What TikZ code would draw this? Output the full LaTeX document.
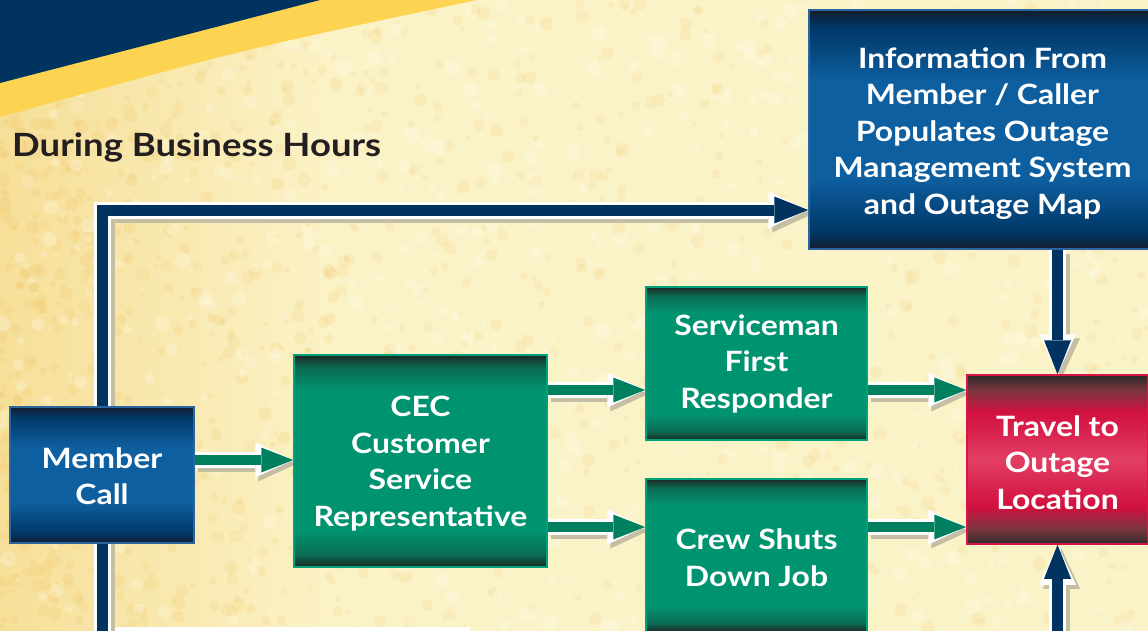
\documentclass[tikz,border=0pt]{standalone}
\usepackage{fontspec}
\setmainfont{Lato}[FakeStretch=1.14]
\usetikzlibrary{arrows.meta}
\definecolor{navy}{HTML}{00335F}
\definecolor{banneryellow}{HTML}{FDD451}
\definecolor{bgA}{HTML}{F6DF98}
\definecolor{bgB}{HTML}{FBF3C8}
\definecolor{speckA}{HTML}{F0BE5A}
\definecolor{speckB}{HTML}{FFFBE6}
\definecolor{titlecol}{HTML}{231F20}
\definecolor{gdark}{HTML}{1C2823}
\definecolor{gmid2}{HTML}{0A6C54}
\definecolor{gmid}{HTML}{00936F}
\definecolor{gborder}{HTML}{00A27C}
\definecolor{arrowgreen}{HTML}{00805F}
\definecolor{bdark}{HTML}{141C2C}
\definecolor{bmid2}{HTML}{003766}
\definecolor{bmid}{HTML}{0E5FA0}
\definecolor{bborder}{HTML}{2A65A0}
\definecolor{rdark}{HTML}{2C2A2A}
\definecolor{rmid2}{HTML}{7A363E}
\definecolor{rmid}{HTML}{D2103F}
\definecolor{rlight}{HTML}{E23E63}
\definecolor{rborder}{HTML}{DA1245}
\definecolor{shadowc}{HTML}{C4BEA4}
\pgfdeclareverticalshading{greenshade}{100bp}{color(0bp)=(gdark); color(25bp)=(gdark); color(28bp)=(gmid2); color(33.5bp)=(gmid); color(66.5bp)=(gmid); color(72bp)=(gmid2); color(75bp)=(gdark); color(100bp)=(gdark)}
\pgfdeclareverticalshading{blueshade}{100bp}{color(0bp)=(bdark); color(25bp)=(bdark); color(28.5bp)=(bmid2); color(40bp)=(bmid); color(60bp)=(bmid); color(71.5bp)=(bmid2); color(75bp)=(bdark); color(100bp)=(bdark)}
\pgfdeclareverticalshading{redshade}{100bp}{color(0bp)=(rdark); color(25bp)=(rdark); color(29.5bp)=(rmid2); color(36bp)=(rmid); color(50bp)=(rlight); color(64bp)=(rmid); color(70.5bp)=(rmid2); color(75bp)=(rdark); color(100bp)=(rdark)}
\pgfdeclarehorizontalshading{bgshade}{100bp}{color(0bp)=(bgA); color(25bp)=(bgA); color(40bp)=(bgB); color(100bp)=(bgB)}
\newcommand\boxfont{\fontsize{28}{36.5}\selectfont\bfseries}
\newcommand\titlefont{\fontsize{32}{34}\selectfont\bfseries}
\newcommand\firstline[1]{\rule{0pt}{#1pt}}
\pgfdeclarelayer{bglayer}
\pgfdeclarelayer{connlayer}
\pgfsetlayers{bglayer,connlayer,main}
\tikzset{
  box/.style={rectangle, inner sep=0pt, text=white, align=center, font=\boxfont, line width=1.5pt},
  greenbox/.style={box, shading=greenshade, draw=gborder},
  bluebox/.style={box, shading=blueshade, draw=bborder},
  redbox/.style={box, shading=redshade, draw=rborder},
  greenarrow/.style={draw=arrowgreen, line width=10pt,
    -{Triangle[length=32pt,width=25pt,line width=0pt]},
    preaction={draw=shadowc, line width=16pt, transform canvas={shift={(3pt,-4pt)}},
      -{Triangle[length=38pt,width=35pt,line width=0pt]}},
    preaction={draw=white, line width=16pt,
      -{Triangle[length=38pt,width=35pt,line width=0pt]}}},
  navyarrow/.style={draw=navy, line width=11pt,
    -{Triangle[length=34pt,width=27pt,line width=0pt]},
    preaction={draw=shadowc, line width=17pt, transform canvas={shift={(4pt,-4pt)}},
      -{Triangle[length=40pt,width=37pt,line width=0pt]}},
    preaction={draw=white, line width=17pt,
      -{Triangle[length=40pt,width=37pt,line width=0pt]}}},
  navyline/.style={navyarrow},
}
\begin{document}
\begin{tikzpicture}[x=1pt,y=-1pt]
\useasboundingbox (0,0) rectangle (1148,630);
\begin{pgfonlayer}{bglayer}
  \shade[shading=bgshade] (0,0) rectangle (1148,630);
  \pgfmathsetseed{42}
  \foreach \i in {1,...,700}{
    \pgfmathsetmacro{\sx}{rnd*1148}
    \pgfmathsetmacro{\sy}{rnd*630}
    \pgfmathsetmacro{\sr}{2+rnd*5}
    \fill[speckA, opacity=0.12] (\sx,\sy) circle[radius=\sr];
  }
  \foreach \i in {1,...,500}{
    \pgfmathsetmacro{\sx}{rnd*rnd*600}
    \pgfmathsetmacro{\sy}{rnd*630}
    \pgfmathsetmacro{\sr}{2+rnd*5}
    \fill[speckA, opacity=0.16] (\sx,\sy) circle[radius=\sr];
  }
  \foreach \i in {1,...,600}{
    \pgfmathsetmacro{\sx}{rnd*1148}
    \pgfmathsetmacro{\sy}{rnd*630}
    \pgfmathsetmacro{\sr}{2+rnd*6}
    \fill[speckB, opacity=0.3] (\sx,\sy) circle[radius=\sr];
  }
  % banner
  \fill[banneryellow] (0,0) -- (477,0) .. controls (240,50) .. (0,117) -- cycle;
  \fill[navy] (0,0) -- (320,0) -- (0,83) -- cycle;
  % white panel at the bottom edge
  \fill[shadowc] (114,631) rectangle (474,645);
  \fill[white] (110,627) rectangle (470,645);
\end{pgfonlayer}

\node[anchor=base west, font=\titlefont, text=titlecol, inner sep=0pt] (title) at (12,156) {During Business Hours};

\node[bluebox, minimum width=184, minimum height=136] (member) at (102,475) {\firstline{23}Member\\Call};
\node[greenbox, minimum width=253, minimum height=212] (cec) at (420.5,461) {\firstline{26}CEC\\Customer\\Service\\Representative};
\node[greenbox, minimum width=221, minimum height=153] (serv) at (756.5,363.5) {Serviceman\\First\\Responder};
\node[greenbox, minimum width=221, minimum height=153] (crew) at (756.5,555.5) {\firstline{25}Crew Shuts\\Down Job};
\node[redbox, minimum width=181, minimum height=169] (travel) at (1057.5,459.5) {\firstline{27}Travel to\\Outage\\Location};
\node[bluebox, minimum width=347, minimum height=239] (info) at (982.5,129.5) {\firstline{29}Information From\\Member / Caller\\Populates Outage\\Management System\\and Outage Map};

\coordinate (ytop) at (0,210);
\coordinate (ya) at (0,460);
\coordinate (yb) at (0,390);
\coordinate (yc) at (0,527);
\coordinate (botL) at (102,645);
\coordinate (botR) at (1057.5,645);

\begin{pgfonlayer}{connlayer}
  \draw[navyline] (botL) |- (info.west |- ytop);
  \draw[navyarrow] (info.south -| travel.north) -- (travel.north);
  \draw[navyarrow] (botR) -- (travel.south);
  \draw[greenarrow] (member.east |- ya) -- (cec.west |- ya);
  \draw[greenarrow] (cec.east |- yb) -- (serv.west |- yb);
  \draw[greenarrow] (cec.east |- yc) -- (crew.west |- yc);
  \draw[greenarrow] (serv.east |- yb) -- (travel.west |- yb);
  \draw[greenarrow] (crew.east |- yc) -- (travel.west |- yc);
\end{pgfonlayer}
\end{tikzpicture}
\end{document}
